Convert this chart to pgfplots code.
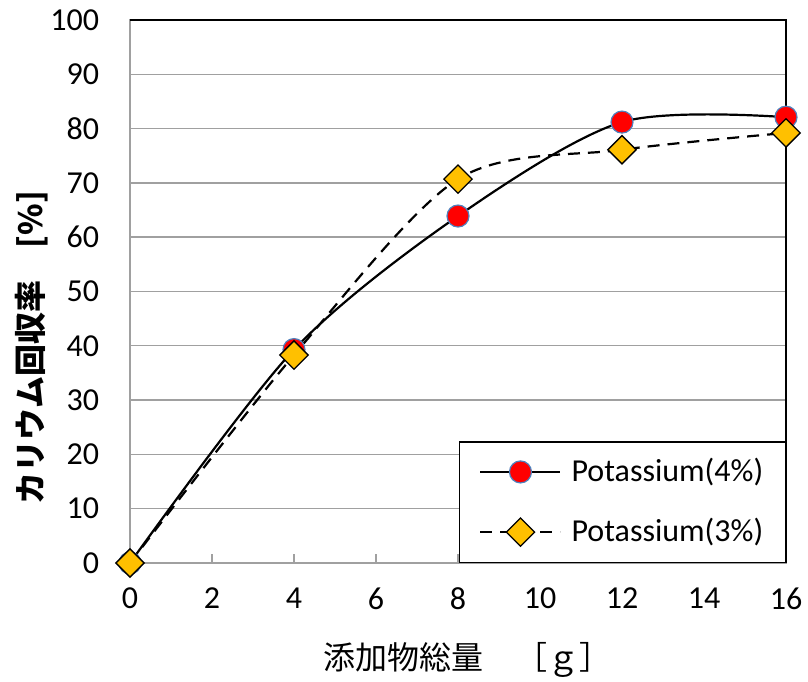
\documentclass[border=0pt]{standalone}
\usepackage{pgfplots}
\pgfplotsset{compat=1.18}
\usepackage{fontspec}
\setmainfont{Carlito}
\newfontfamily\cjk{Noto Sans CJK JP}
\definecolor{gridgray}{RGB}{160,160,160}
\definecolor{edgeblue}{RGB}{79,129,189}
\definecolor{gold}{RGB}{255,192,0}
\begin{document}
\fontsize{32}{38}\selectfont
\begin{tikzpicture}
\begin{axis}[
  scale only axis, width=656pt, height=543pt,
  xmin=0, xmax=16, ymin=0, ymax=100,
  xtick={0,2,...,16}, ytick={0,10,...,100},
  axis line style={draw=gridgray, line width=1.4pt},
  tick align=inside,
  xtick style={draw=gridgray, line width=1.4pt},
  major tick length=9pt,
  ytick style={draw=none},
  xtick pos=bottom, ytick pos=left,
  ymajorgrids, grid style={gridgray, line width=1.4pt},
  tick label style={font=\fontsize{32}{38}\selectfont},
  /pgf/number format/assume math mode=true,
  xticklabel style={yshift=-14pt},
  yticklabel style={xshift=-20pt},
  xlabel={\cjk 添加物総量　［ｇ］},
  ylabel={\cjk\bfseries カリウム回収率　[\%]},
  xlabel style={at={(axis description cs:0.5,0)}, anchor=center, yshift=-97pt, xshift=9pt, font=\fontsize{32}{38}\selectfont},
  ylabel style={at={(axis description cs:0,0.5)}, anchor=center, xshift=-56pt, yshift=98pt, font=\fontsize{32}{38}\selectfont},
  clip=false,
  legend style={at={(rel axis cs:1,0)}, anchor=south east, draw=black, line width=1.5pt,
    font=\fontsize{32}{38}\selectfont, inner xsep=20pt, inner ysep=14pt, row sep=28pt,
    /tikz/every odd column/.append style={column sep=8pt}},
  legend cell align=left,
  legend image code/.code={\draw[mark repeat=2,mark phase=2,#1] plot coordinates {(0pt,0pt) (40pt,0pt) (80pt,0pt)};},
]
\draw[black, line width=1.6pt] (rel axis cs:0,1) -- (rel axis cs:1,1) -- (rel axis cs:1,0);
\coordinate (sw) at (rel axis cs:0,0);
\coordinate (ne) at (rel axis cs:1,1);
\addplot[black, line width=2.2pt, smooth, tension=0.5, mark=*, mark size=11pt,
  mark options={solid, fill=red, draw=edgeblue, line width=1.2pt}]
  coordinates {(0,0) (4,39.3) (8,63.9) (12,81.2) (16,82.1)};
\addlegendentry{Potassium(4\%)}
\addplot[black, line width=2.2pt, dash pattern=on 12pt off 8pt, smooth, tension=0.5, mark=square*, mark size=10pt,
  mark options={solid, rotate=45, fill=gold, draw=black, line width=1.3pt}]
  coordinates {(0,0) (4,38.3) (8,70.7) (12,76.1) (16,79.2)};
\addlegendentry{Potassium(3\%)}
\end{axis}
\pgfresetboundingbox
\path ([xshift=-130pt,yshift=-119pt]sw) rectangle ([xshift=22pt,yshift=20pt]ne);
\end{tikzpicture}
\end{document}
